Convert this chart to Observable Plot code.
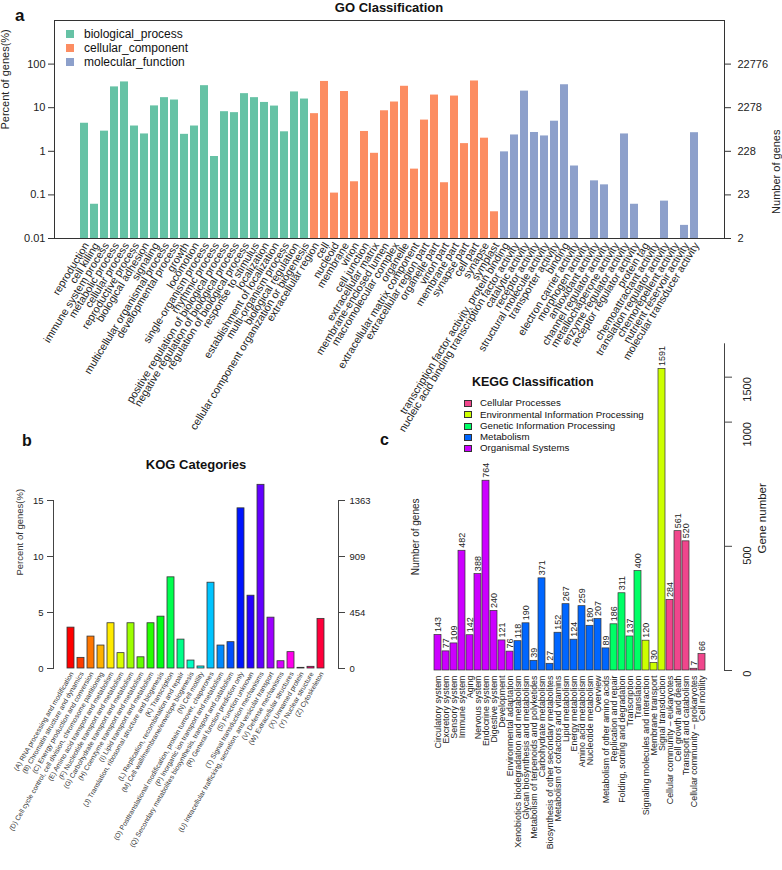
<!DOCTYPE html>
<html><head><meta charset="utf-8">
<script src="https://cdn.jsdelivr.net/npm/d3@7"></script>
<script src="https://cdn.jsdelivr.net/npm/@observablehq/plot@0.6"></script>
<style>
body{margin:0;background:#fff;}
#wrap{position:relative;width:782px;height:870px;overflow:hidden;font-family:"Liberation Sans",Arial,Helvetica,sans-serif;color:#111;background:#fff;}
.panel{position:absolute;}
.lbl{position:absolute;white-space:nowrap;line-height:1;}
.sw{position:absolute;box-sizing:border-box;}
</style></head><body><div id="wrap"></div>
<script>
// ---------------- GO data ----------------
const bpNames = ["reproduction","cell killing","immune system process","metabolic process","cellular process","reproductive process","biological adhesion","signaling","multicellular organismal process","developmental process","growth","locomotion","single-organism process","rhythmic process","positive regulation of biological process","negative regulation of biological process","regulation of biological process","response to stimulus","localization","establishment of localization","multi-organism process","biological regulation","cellular component organization or biogenesis"];
const bpValues = [4.4,0.061,2.9,30,39,3.8,2.5,11,17,15,2.45,3.8,32,0.76,8.1,7.7,21,17,13.2,10.9,2.8,23,15.8];
const ccNames = ["extracellular region","cell","nucleoid","membrane","virion","cell junction","extracellular matrix","membrane-enclosed lumen","macromolecular complex","organelle","extracellular matrix component","extracellular region part","organelle part","virion part","membrane part","synapse part","cell part","synapse","symplast"];
const ccValues = [7.3,40,0.11,23.5,0.2,2.85,0.9,8.5,13.5,31,0.39,5.2,19.5,0.19,18.5,1.5,41,2.0,0.041];
const mfNames = ["transcription factor activity, protein binding","nucleic acid binding transcription factor activity","catalytic activity","receptor activity","structural molecule activity","transporter activity","binding","electron carrier activity","morphogen activity","antioxidant activity","channel regulator activity","metallochaperone activity","enzyme regulator activity","receptor regulator activity","protein tag","chemoattractant activity","translation regulator activity","chemorepellent activity","nutrient reservoir activity","molecular transducer activity"];
const mfValues = [0.97,2.37,24,2.7,2.25,4.9,33.6,0.46,0,0.21,0.17,0,2.5,0.061,0,0,0.072,0,0.02,2.67];
const goGroups = ["biological_process","cellular_component","molecular_function"];
const goColors = ["#66C2A5","#FC8D62","#8DA0CB"];
const goTotalGenes = 22776;
const goTicks = [0.01,0.1,1,10,100];
const goTickLabels = ["0.01","0.1","1","10","100"];
const goCountLabels = ["2","23","228","2278","22776"];

// ---------------- KOG data ----------------
const kogCodes = ["A","B","C","D","E","F","G","H","I","J","K","L","M","N","O","P","Q","R","S","T","U","V","W","X","Y","Z"];
const kogLabels = ["(A) RNA processing and modification","(B) Chromatin structure and dynamics","(C) Energy production and conversion","(D) Cell cycle control, cell division, chromosome partitioning","(E) Amino acid transport and metabolism","(F) Nucleotide transport and metabolism","(G) Carbohydrate transport and metabolism","(H) Coenzyme transport and metabolism","(I) Lipid transport and metabolism","(J) Translation, ribosomal structure and biogenesis","(K) Transcription","(L) Replication, recombination and repair","(M) Cell wall/membrane/envelope biogenesis","(N) Cell motility","(O) Posttranslational modification, protein turnover, chaperones","(P) Inorganic ion transport and metabolism","(Q) Secondary metabolites biosynthesis, transport and catabolism","(R) General function prediction only","(S) Function unknown","(T) Signal transduction mechanisms","(U) Intracellular trafficking, secretion, and vesicular transport","(V) Defense mechanisms","(W) Extracellular structures","(X) Unnamed protein","(Y) Nuclear structure","(Z) Cytoskeleton"];
const kogValues = [3.65,0.95,2.85,2.05,4.04,1.37,4.04,1.0,4.04,4.63,8.14,2.58,0.71,0.18,7.66,2.05,2.35,14.3,6.5,16.4,4.54,0.65,1.46,0.06,0.15,4.43];
const kogTicks = [0,5,10,15];
const kogCountLabels = ["0","454","909","1363"];

// ---------------- KEGG data ----------------
const keggNames = ["Circulatory system","Excretory system","Sensory system","Immune system","Aging","Nervous system","Endocrine system","Digestive system","Development","Environmental adaptation","Xenobiotics biodegradation and metabolism","Glycan biosynthesis and metabolism","Metabolism of terpenoids and polyketides","Carbohydrate metabolism","Biosynthesis of other secondary metabolites","Metabolism of cofactors and vitamins","Lipid metabolism","Energy metabolism","Amino acid metabolism","Nucleotide metabolism","Overview","Metabolism of other amino acids","Replication and repair","Folding, sorting and degradation","Transcription","Translation","Signaling molecules and interaction","Membrane transport","Signal transduction","Cellular community – eukaryotes","Cell growth and death","Transport and catabolism","Cellular community – prokaryotes","Cell motility"];
const keggValues = [143,77,109,482,142,388,764,240,121,76,118,190,39,371,27,152,267,124,259,180,207,89,186,311,137,400,120,30,1591,284,561,520,7,66];
const keggClassOf = ["Organismal Systems","Organismal Systems","Organismal Systems","Organismal Systems","Organismal Systems","Organismal Systems","Organismal Systems","Organismal Systems","Organismal Systems","Organismal Systems","Metabolism","Metabolism","Metabolism","Metabolism","Metabolism","Metabolism","Metabolism","Metabolism","Metabolism","Metabolism","Metabolism","Metabolism","Genetic Information Processing","Genetic Information Processing","Genetic Information Processing","Genetic Information Processing","Environmental Information Processing","Environmental Information Processing","Environmental Information Processing","Cellular Processes","Cellular Processes","Cellular Processes","Cellular Processes","Cellular Processes"];
const keggClasses = ["Cellular Processes","Environmental Information Processing","Genetic Information Processing","Metabolism","Organismal Systems"];
const keggColors = ["#F0468C","#CCFF00","#00FF66","#0066FF","#CC00FF"];
const keggTicks = [0,500,1000,1500];
// the gene-number axis is compressed above this break value
const keggBreak = 1000;
const keggCompress = 0.362;

// ---------------- build ----------------
const FONT = '"Liberation Sans", Arial, Helvetica, sans-serif';
const wrap = document.getElementById("wrap");
const baseStyle = {fontFamily: FONT, background: "transparent", overflow: "visible", color: "#222"};

function place(node, left, top) {
  const d = document.createElement("div");
  d.className = "panel";
  d.style.left = left + "px";
  d.style.top = top + "px";
  d.appendChild(node);
  wrap.appendChild(d);
}
function addText(str, x, baseline, size, opts = {}) {
  const el = document.createElement("div");
  el.className = "lbl";
  el.textContent = str;
  el.style.fontSize = size + "px";
  el.style.top = (baseline - 0.85 * size) + "px";
  el.style.left = x + "px";
  if (opts.center) el.style.transform = "translateX(-50%)";
  if (opts.bold) el.style.fontWeight = "bold";
  wrap.appendChild(el);
}
function addSwatch(x, yc, w, h, color, border) {
  const el = document.createElement("div");
  el.className = "sw";
  el.style.left = x + "px";
  el.style.top = (yc - h / 2) + "px";
  el.style.width = w + "px";
  el.style.height = h + "px";
  el.style.background = color;
  if (border) el.style.border = "1px solid " + border;
  wrap.appendChild(el);
}

// GO panel
const goData = [
  ...bpNames.map((n, i) => ({name: n, value: bpValues[i], group: goGroups[0]})),
  ...ccNames.map((n, i) => ({name: n, value: ccValues[i], group: goGroups[1]})),
  ...mfNames.map((n, i) => ({name: n, value: mfValues[i], group: goGroups[2]}))
];
const goPlot = Plot.plot({
  width: 782, height: 460,
  marginLeft: 54, marginRight: 58, marginTop: 20, marginBottom: 222,
  style: baseStyle,
  x: {domain: goData.map(d => d.name), range: [79, 699], paddingInner: 0.17, paddingOuter: 0, axis: null},
  y: {type: "log", domain: [0.01, 1000], axis: null},
  color: {domain: goGroups, range: goColors},
  marks: [
    Plot.barY(goData.filter(d => d.value > 0), {x: "name", y1: () => 0.01, y2: "value", fill: "group"}),
    Plot.frame({stroke: "#333"}),
    Plot.axisY({anchor: "left", ticks: goTicks, tickFormat: d => goTickLabels[goTicks.indexOf(d)], tickSize: 6, tickPadding: 3, fontSize: 11, label: null, stroke: "#333"}),
    Plot.axisY({anchor: "right", ticks: goTicks, tickFormat: d => goCountLabels[goTicks.indexOf(d)], tickSize: 6, tickPadding: 7, fontSize: 11, label: null, stroke: "#333"}),
    Plot.text(goData, {x: "name", y: () => 0.01, text: "name", rotate: -58.5, textAnchor: "end", dx: 2, dy: 5, fontSize: 10.7, fill: "#222"}),
    Plot.text(["Percent of genes(%)"], {text: d => d, frameAnchor: "left", rotate: -90, dx: -49, fontSize: 11, fill: "#222"}),
    Plot.text(["Number of genes"], {text: d => d, frameAnchor: "right", rotate: -90, dx: 52, fontSize: 11, fill: "#222"})
  ]
});
place(goPlot, 0, 0);

// KOG panel
const kogData = kogCodes.map((c, i) => ({code: c, label: kogLabels[i], value: kogValues[i]}));
const kogPalette = kogCodes.map((_, i) => d3.hsl(360 * i / kogCodes.length, 1, 0.5).formatHex());
const kogPlot = Plot.plot({
  width: 390, height: 430,
  marginLeft: 53, marginRight: 52, marginTop: 60, marginBottom: 202,
  style: baseStyle,
  x: {domain: kogCodes, range: [65, 327], paddingInner: 0.28, paddingOuter: 0, axis: null},
  y: {domain: [0, 15], axis: null},
  color: {domain: kogCodes, range: kogPalette},
  marks: [
    Plot.barY(kogData, {x: "code", y: "value", fill: "code", stroke: "#333", strokeWidth: 0.8}),
    Plot.frame({anchor: "left", stroke: "#444"}),
    Plot.frame({anchor: "right", stroke: "#444"}),
    Plot.axisY({anchor: "left", ticks: kogTicks, tickSize: 6, tickPadding: 4, fontSize: 9.5, label: null, stroke: "#444"}),
    Plot.axisY({anchor: "right", ticks: kogTicks, tickFormat: d => kogCountLabels[kogTicks.indexOf(d)], tickSize: 6, tickPadding: 5, fontSize: 9.5, label: null, stroke: "#444"}),
    Plot.text(kogData, {x: "code", y: () => 0, text: "label", rotate: -60, textAnchor: "end", dx: 1, dy: 4, fontSize: 6.9, fill: "#333"}),
    Plot.text(["Percent of genes(%)"], {text: d => d, frameAnchor: "left", rotate: -90, dx: -34, dy: -9, fontSize: 9.5, fill: "#333"})
  ]
});
place(kogPlot, 0, 440);

// KEGG panel
const keggData = keggNames.map((n, i) => ({name: n, value: keggValues[i], cls: keggClassOf[i]}));
const keggAxisTop = 1871;
const keggY = v => v <= keggBreak ? v : keggBreak + (v - keggBreak) * keggCompress;
const keggPlot = Plot.plot({
  width: 392, height: 540,
  marginLeft: 20, marginRight: 58, marginTop: 13.3, marginBottom: 200,
  style: baseStyle,
  x: {domain: keggNames, range: [35.7, 323], paddingInner: 0.12, paddingOuter: 0, axis: null},
  y: {transform: keggY, domain: [0, keggY(keggAxisTop)], axis: null},
  color: {domain: keggClasses, range: keggColors},
  marks: [
    Plot.barY(keggData, {x: "name", y: "value", fill: "cls", stroke: "#333", strokeWidth: 0.7}),
    Plot.text(keggData, {x: "name", y: "value", text: d => String(d.value), rotate: -90, textAnchor: "start", dy: -3, fontSize: 9, fill: "#222"}),
    Plot.text(keggData, {x: "name", y: () => 0, text: "name", rotate: -90, textAnchor: "end", dy: 5, fontSize: 8.9, fill: "#222"}),
    Plot.frame({anchor: "right", stroke: "#444"}),
    // the axis mark receives already-scaled positions, so feed it the compressed tick values
    Plot.axisY({anchor: "right", ticks: keggTicks.map(keggY), tickFormat: () => "", tickSize: 7, label: null, stroke: "#444"}),
    Plot.text(keggTicks, {y: d => d, text: d => String(d), frameAnchor: "right", dx: 23, rotate: -90, fontSize: 11, fill: "#222"}),
    Plot.text(["Gene number"], {text: d => d, frameAnchor: "right", rotate: -90, dx: 38, dy: -24, fontSize: 11.5, fill: "#222"}),
    Plot.text(["Number of genes"], {text: d => d, frameAnchor: "left", rotate: -90, dx: 5, dy: 68, fontSize: 10, fill: "#222"})
  ]
});
place(keggPlot, 390, 330);

// Titles, panel letters, legends
addText("a", 15, 21, 17, {bold: true});
addText("GO Classification", 389, 12, 13, {bold: true, center: true});
goGroups.forEach((g, i) => {
  const yc = [34, 48.3, 62.3][i];
  addSwatch(66, yc, 8, 8, goColors[i]);
  addText(g, 84, yc + 4.2, 12);
});
addText("b", 22, 447, 16, {bold: true});
addText("KOG Categories", 196, 469, 13, {bold: true, center: true});
addText("c", 380, 446, 16, {bold: true});
addText("KEGG Classification", 472, 386.7, 12.5, {bold: true});
keggClasses.forEach((c, i) => {
  const yc = [403.3, 414.7, 426, 437, 448.3][i];
  addSwatch(464, yc, 8, 7, keggColors[i], "#333");
  addText(c, 480, yc + 3.4, 9.7);
});
</script></body></html>
